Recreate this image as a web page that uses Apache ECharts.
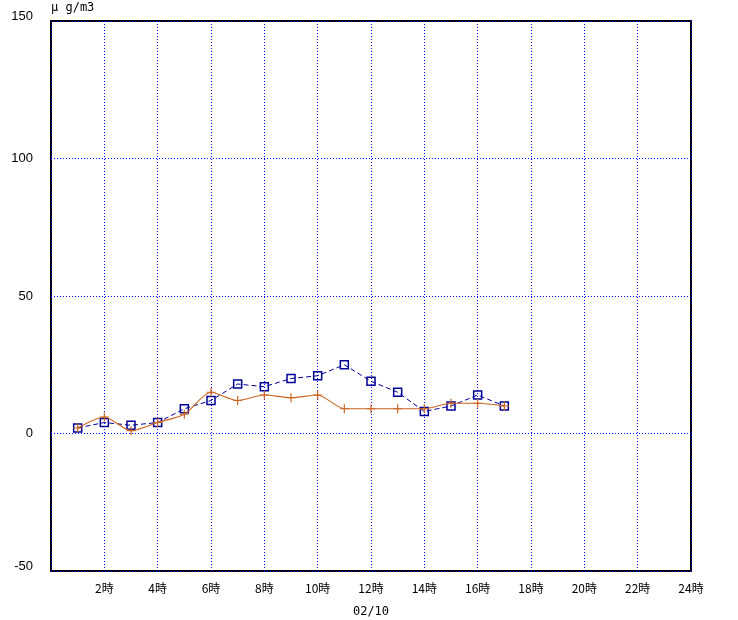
<!DOCTYPE html>
<html>
<head>
<meta charset="utf-8">
<script src="https://cdn.jsdelivr.net/npm/echarts@6/dist/echarts.min.js"></script>
<style>
  html, body { margin: 0; padding: 0; background: #fff; }
  #chart { width: 738px; height: 620px; }
</style>
</head>
<body>
<div id="chart"></div>
<script>
// hours of the day (02/10)
const hours = [1, 2, 3, 4, 5, 6, 7, 8, 9, 10, 11, 12, 13, 14, 15, 16, 17];
// blue dashed series (squares)
const blueValues = [2, 4, 3, 4, 9, 12, 18, 17, 20, 21, 25, 19, 15, 8, 10, 14, 10];
// orange solid series (plus marks)
const orangeValues = [2, 6, 1, 4, 7, 15, 12, 14, 13, 14, 9, 9, 9, 9, 11, 11, 10];
const yTicks = [-50, 0, 50, 100, 150];
const xTicks = [0, 2, 4, 6, 8, 10, 12, 14, 16, 18, 20, 22, 24];

const toPairs = (vals) => hours.map((h, i) => [h, vals[i]]);

const chart = echarts.init(document.getElementById('chart'));

chart.setOption({
  animation: false,
  grid: {
    left: 51, top: 21, width: 640, height: 550,
    outerBoundsMode: 'none',
    containLabel: false,
    show: true, borderColor: '#000', borderWidth: 2, backgroundColor: '#fff'
  },
  xAxis: {
    type: 'value',
    min: xTicks[0],
    max: xTicks[xTicks.length - 1],
    interval: 2,
    name: '02/10',
    nameLocation: 'middle',
    nameGap: 35,
    nameTextStyle: { fontFamily: 'DejaVu Sans Mono', fontSize: 12, color: '#000' },
    axisLine: { show: false },
    axisTick: { show: false },
    axisLabel: {
      margin: 11,
      fontFamily: 'Noto Sans CJK JP',
      fontSize: 12,
      color: '#000',
      formatter: (v) => (v === 0 ? '' : v + '時')
    },
    splitLine: { show: true, lineStyle: { color: '#0000ff', type: [1, 2], width: 1 } }
  },
  yAxis: {
    type: 'value',
    min: yTicks[0],
    max: yTicks[yTicks.length - 1],
    interval: 50,
    name: 'μ g/m3',
    nameLocation: 'end',
    nameGap: 7,
    nameTextStyle: { fontFamily: 'DejaVu Sans Mono', fontSize: 12, color: '#000', align: 'left' },
    axisLine: { show: false },
    axisTick: { show: false },
    axisLabel: {
      margin: 18,
      fontFamily: 'Liberation Sans',
      fontSize: 13,
      color: '#000',
      // end labels sit a little above their grid lines in the reference
      formatter: (v) => (v === yTicks[0] || v === yTicks[yTicks.length - 1]) ? '{up|' + v + '}' : String(v),
      rich: {
        up: { fontFamily: 'Liberation Sans', fontSize: 13, color: '#000', padding: [0, 0, 9, 0] }
      }
    },
    splitLine: { show: true, lineStyle: { color: '#0000ff', type: [1, 2], width: 1 } }
  },
  series: [
    {
      type: 'line',
      data: toPairs(blueValues),
      symbol: 'rect',
      symbolSize: 8,
      lineStyle: { color: '#000099', width: 1, type: [5, 3] },
      itemStyle: { color: 'rgba(0,0,0,0)', borderColor: '#000099', borderWidth: 1.5 },
      z: 2
    },
    {
      type: 'line',
      data: toPairs(orangeValues),
      smooth: 0.25,
      symbol: 'path://M5,0 L5,10 M0,5 L10,5',
      symbolSize: 9,
      lineStyle: { color: '#cc6622', width: 1.2 },
      itemStyle: { color: 'rgba(0,0,0,0)', borderColor: '#cc6622', borderWidth: 1.2 },
      z: 3
    }
  ]
});
</script>
</body>
</html>
